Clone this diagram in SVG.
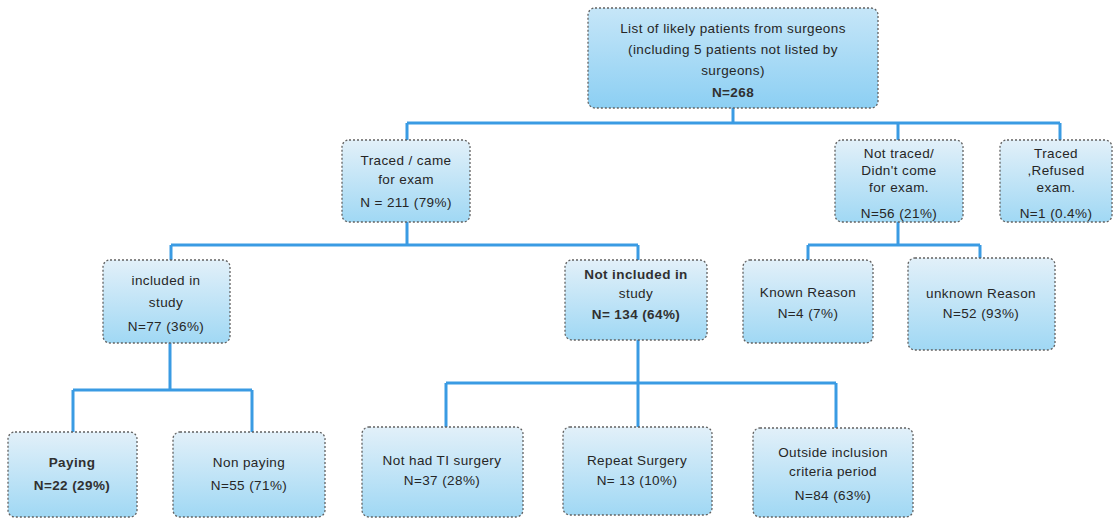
<svg xmlns="http://www.w3.org/2000/svg" width="1118" height="522" viewBox="0 0 1118 522">
<defs>
<linearGradient id="bg" x1="0" y1="0" x2="0" y2="1">
<stop offset="0" stop-color="#e2f0f9"/>
<stop offset="1" stop-color="#a0d8f4"/>
</linearGradient>
<linearGradient id="bgTop" x1="0" y1="0" x2="0" y2="1">
<stop offset="0" stop-color="#c6e6f8"/>
<stop offset="1" stop-color="#8ccff3"/>
</linearGradient>
<style>
.box{fill:url(#bg);stroke:#626262;stroke-width:1.3;stroke-dasharray:2 2}
.top{fill:url(#bgTop)}
.t{font-family:"Liberation Sans","DejaVu Sans",sans-serif;font-size:13.5px;fill:#262626;text-anchor:middle;dominant-baseline:central;letter-spacing:0.4px}
.b{font-weight:bold;fill:#303030}
.c{fill:none;stroke:#3a9be3;stroke-width:3}
</style>
</defs>
<rect width="1118" height="522" fill="#ffffff"/>
<g id="connectors">
<path class="c" d="M733,108 V123 M407,123 H1060 M407,123 V140 M898,123 V140 M1060,123 V140"/>
<path class="c" d="M407,222 V245 M171,245 H638 M171,245 V260 M638,245 V260"/>
<path class="c" d="M898,222 V245 M808,245 H980 M808,245 V260 M980,245 V258"/>
<path class="c" d="M170,343 V390 M73,390 H252 M73,390 V432 M252,390 V432"/>
<path class="c" d="M638,340 V383 M446,383 H836 M446,383 V427 M638,383 V427 M836,383 V428"/>
</g>
<g id="n_list">
<rect class="box top" x="588" y="8" width="290" height="100" rx="7"/>
<text class="t" x="733" y="28">List of likely  patients from surgeons</text>
<text class="t" x="733" y="49">(including  5 patients not listed by</text>
<text class="t" x="733" y="70">surgeons)</text>
<text class="t b" x="733" y="92">N=268</text>
</g>
<g id="n_traced">
<rect class="box" x="342" y="140" width="128" height="82" rx="7"/>
<text class="t" x="406" y="160">Traced / came</text>
<text class="t" x="406" y="179">for exam</text>
<text class="t" x="406" y="202">N = 211 (79%)</text>
</g>
<g id="n_nottraced">
<rect class="box" x="835" y="140" width="128" height="82" rx="7"/>
<text class="t" x="899" y="153">Not traced/</text>
<text class="t" x="899" y="170">Didn't come</text>
<text class="t" x="899" y="187">for exam.</text>
<text class="t" x="899" y="213">N=56 (21%)</text>
</g>
<g id="n_refused">
<rect class="box" x="1000" y="140" width="112" height="82" rx="7"/>
<text class="t" x="1056" y="153">Traced</text>
<text class="t" x="1056" y="170">,Refused</text>
<text class="t" x="1056" y="187">exam.</text>
<text class="t" x="1056" y="213">N=1 (0.4%)</text>
</g>
<g id="n_included">
<rect class="box" x="103" y="260" width="127" height="83" rx="7"/>
<text class="t" x="166" y="280">included in</text>
<text class="t" x="166" y="302">study</text>
<text class="t" x="166" y="326">N=77 (36%)</text>
</g>
<g id="n_notincluded">
<rect class="box" x="565" y="260" width="142" height="80" rx="7"/>
<text class="t b" x="636" y="274">Not included in</text>
<text class="t" x="636" y="293">study</text>
<text class="t b" x="636" y="314">N= 134 (64%)</text>
</g>
<g id="n_known">
<rect class="box" x="743" y="260" width="130" height="83" rx="7"/>
<text class="t" x="808" y="292">Known Reason</text>
<text class="t" x="808" y="313">N=4 (7%)</text>
</g>
<g id="n_unknown">
<rect class="box" x="908" y="258" width="147" height="92" rx="7"/>
<text class="t" x="981" y="293">unknown Reason</text>
<text class="t" x="981" y="313">N=52 (93%)</text>
</g>
<g id="n_paying">
<rect class="box" x="8" y="432" width="129" height="85" rx="7"/>
<text class="t b" x="72" y="462">Paying</text>
<text class="t b" x="72" y="485">N=22 (29%)</text>
</g>
<g id="n_nonpaying">
<rect class="box" x="173" y="432" width="152" height="85" rx="7"/>
<text class="t" x="249" y="462">Non paying</text>
<text class="t" x="249" y="485">N=55 (71%)</text>
</g>
<g id="n_notti">
<rect class="box" x="362" y="427" width="161" height="90" rx="7"/>
<text class="t" x="442" y="460">Not had TI surgery</text>
<text class="t" x="442" y="480">N=37 (28%)</text>
</g>
<g id="n_repeat">
<rect class="box" x="563" y="427" width="149" height="88" rx="7"/>
<text class="t" x="637" y="460">Repeat Surgery</text>
<text class="t" x="637" y="480">N= 13 (10%)</text>
</g>
<g id="n_outside">
<rect class="box" x="753" y="428" width="160" height="89" rx="7"/>
<text class="t" x="833" y="452">Outside inclusion</text>
<text class="t" x="833" y="471">criteria period</text>
<text class="t" x="833" y="495">N=84 (63%)</text>
</g>
</svg>
